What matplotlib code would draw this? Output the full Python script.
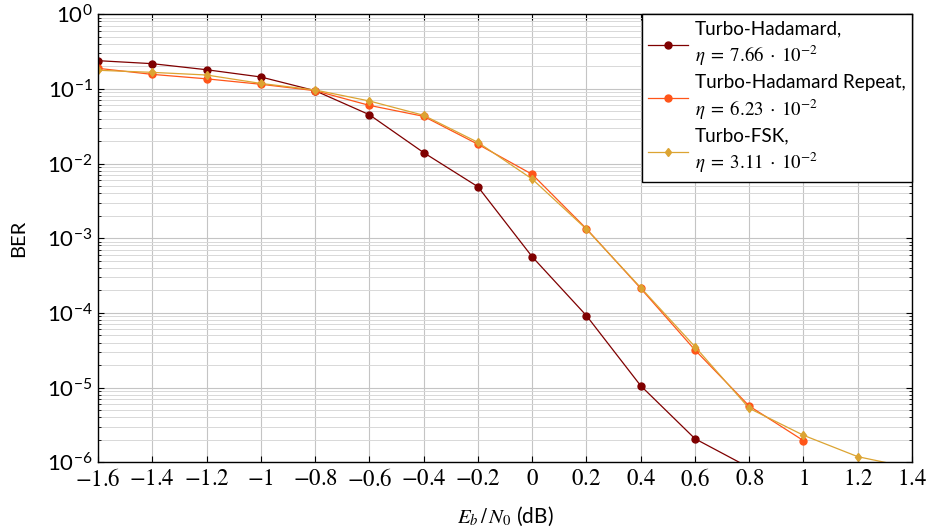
import numpy as np
import matplotlib
matplotlib.use("Agg")
from matplotlib import pyplot as plt
from matplotlib.ticker import FixedLocator, FuncFormatter, LogLocator, LogFormatterMathtext, NullFormatter

# Eb/N0 (dB) values
snr_th = [-1.6, -1.4, -1.2, -1.0, -0.8, -0.6, -0.4, -0.2, 0.0, 0.2, 0.4, 0.6, 0.8]
ber_th = [0.238, 0.217, 0.180, 0.144, 0.0944, 0.045, 0.0140, 4.89e-3, 5.65e-4,
          9.2e-5, 1.06e-5, 2.07e-6, 8.5e-7]

snr_rep = [-1.6, -1.4, -1.2, -1.0, -0.8, -0.6, -0.4, -0.2, 0.0, 0.2, 0.4, 0.6, 0.8, 1.0]
ber_rep = [0.188, 0.156, 0.136, 0.115, 0.0944, 0.060, 0.0428, 0.0181, 7.17e-3,
           1.34e-3, 2.13e-4, 3.19e-5, 5.67e-6, 1.95e-6]

snr_fsk = [-1.6, -1.4, -1.2, -1.0, -0.8, -0.6, -0.4, -0.2, 0.0, 0.2, 0.4, 0.6, 0.8, 1.0, 1.2, 1.4]
ber_fsk = [0.177, 0.166, 0.153, 0.118, 0.0964, 0.0687, 0.0442, 0.0192, 6.2e-3,
           1.32e-3, 2.18e-4, 3.53e-5, 5.28e-6, 2.3e-6, 1.19e-6, 8.4e-7]

labels = ["Turbo-Hadamard,\n$\\eta\\;=\\;7.66\\;\\cdot\\;10^{-2}$",
          "Turbo-Hadamard Repeat,\n$\\eta\\;=\\;6.23\\;\\cdot\\;10^{-2}$",
          "Turbo-FSK,\n$\\eta\\;=\\;3.11\\;\\cdot\\;10^{-2}$"]
xticks = [-1.6, -1.4, -1.2, -1.0, -0.8, -0.6, -0.4, -0.2, 0.0, 0.2, 0.4, 0.6, 0.8, 1.0, 1.2, 1.4]

plt.rcParams['font.family'] = ['Lato', 'DejaVu Sans']
plt.rcParams['mathtext.fontset'] = 'stix'

fig = plt.figure(figsize=(9.28, 5.28), dpi=100)
ax = fig.add_axes([0.1056, 0.1244, 0.8772, 0.8489])

ax.plot(snr_th, ber_th, color='#7f0000', lw=0.9, marker='o', ms=5, label=labels[0])
ax.plot(snr_rep, ber_rep, color='#ff5519', lw=0.9, marker='o', ms=5, label=labels[1])
ax.plot(snr_fsk, ber_fsk, color='#dca432', lw=0.9, marker='d', ms=4.5, label=labels[2])

ax.set_yscale('log')
ax.set_xlim(-1.6, 1.4)
ax.set_ylim(1e-6, 1)

ax.xaxis.set_major_locator(FixedLocator(xticks))
ax.xaxis.set_major_formatter(FuncFormatter(lambda v, p: "$%g$" % round(v, 1)))
ax.yaxis.set_major_locator(LogLocator(base=10, numticks=20))
ax.yaxis.set_major_formatter(LogFormatterMathtext())
ax.yaxis.set_minor_locator(LogLocator(base=10, subs=np.arange(2, 10), numticks=20))
ax.yaxis.set_minor_formatter(NullFormatter())

ax.grid(True, which='major', color='#c4c4c4', lw=0.8)
ax.grid(True, which='minor', axis='y', color='#d8d8d8', lw=0.7)
ax.set_axisbelow(True)

ax.tick_params(which='both', direction='in', top=True, right=True, labelsize=16)
ax.tick_params(axis='x', labelsize=16.5)
ax.tick_params(which='major', length=4, width=0.8, pad=4)
ax.tick_params(which='minor', length=2.5, width=0.6)
for s in ax.spines.values():
    s.set_linewidth(1.0)

ax.set_ylabel("BER", fontsize=14.5, labelpad=14)
ax.set_xlabel("$E_b\\,/\\,N_0$ (dB)", fontsize=15, labelpad=11)

leg = ax.legend(loc='upper right', bbox_to_anchor=(1, 1), borderaxespad=0, fontsize=13.6,
                fancybox=False, framealpha=1, edgecolor='black', handlelength=2.1,
                handletextpad=0.35, labelspacing=0.3, borderpad=0.35)
leg.get_frame().set_linewidth(1.0)
for t in leg.get_texts():
    t.set_linespacing(1.35)

fig.savefig("out.png", dpi=100)
